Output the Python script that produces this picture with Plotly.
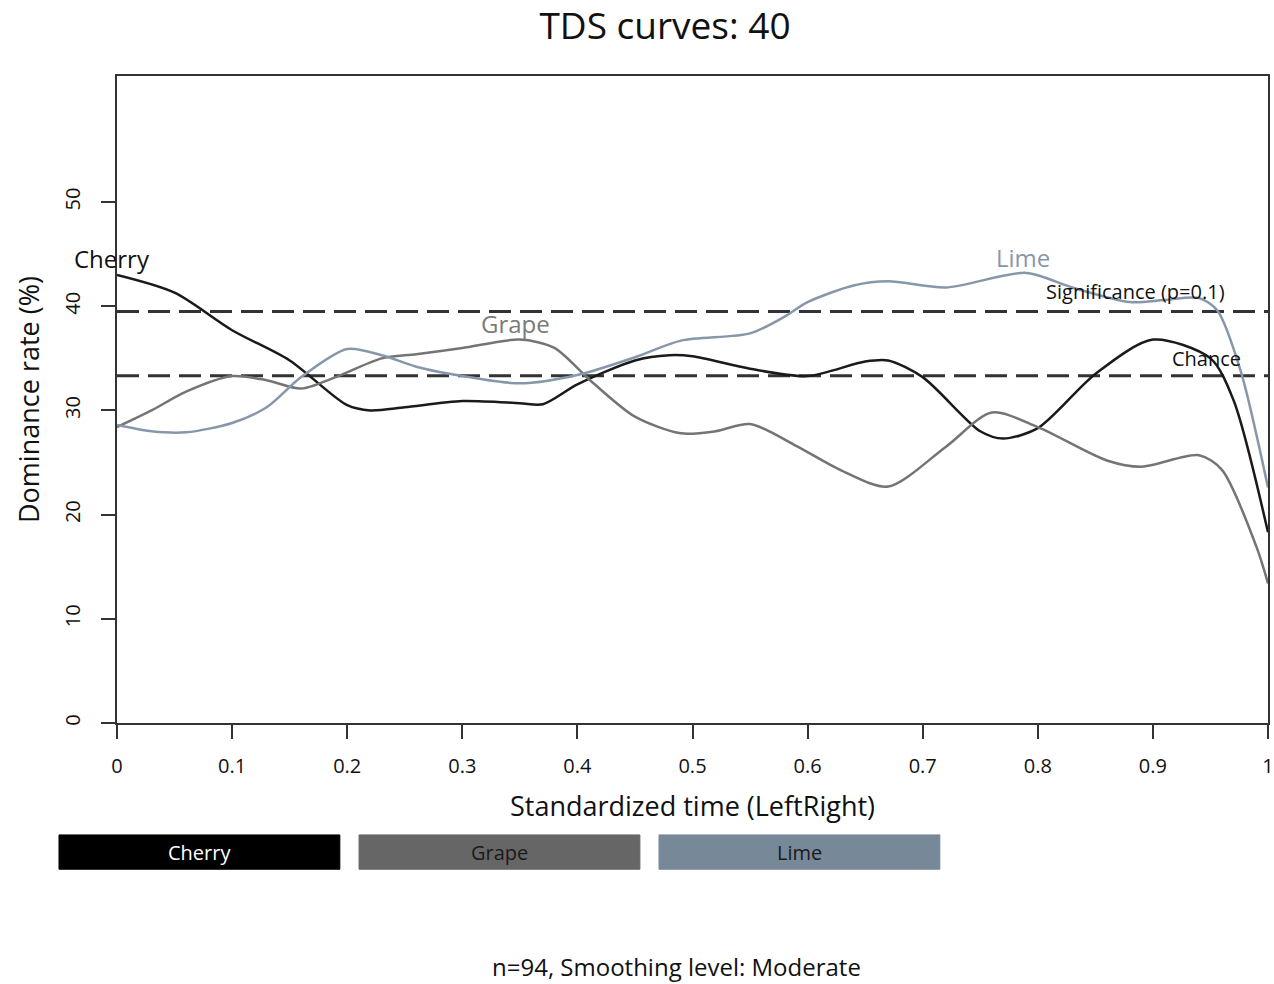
import plotly.graph_objects as go

# Standardized time points and dominance rates (%) for each attribute
cherry_t = [0, 0.05, 0.1, 0.15, 0.2, 0.22, 0.25, 0.3, 0.35, 0.37, 0.4, 0.45, 0.48, 0.5,
            0.55, 0.6, 0.65, 0.67, 0.7, 0.75, 0.77, 0.8, 0.85, 0.9, 0.95, 0.97, 1.0]
cherry_v = [43.0, 41.3, 37.7, 34.8, 30.5, 30.0, 30.3, 30.9, 30.7, 30.6, 32.5, 34.8, 35.3, 35.2,
            34.0, 33.3, 34.7, 34.8, 33.2, 28.0, 27.3, 28.3, 33.5, 36.8, 35.0, 31.0, 18.3]

grape_t = [0, 0.03, 0.06, 0.1, 0.13, 0.16, 0.19, 0.23, 0.26, 0.3, 0.35, 0.38, 0.41, 0.45,
           0.49, 0.52, 0.55, 0.59, 0.63, 0.67, 0.72, 0.76, 0.8, 0.86, 0.89, 0.94, 0.96, 0.99, 1.0]
grape_v = [28.4, 30.0, 31.8, 33.3, 32.9, 32.1, 33.2, 35.0, 35.4, 36.0, 36.8, 36.0, 33.0, 29.4,
           27.8, 28.0, 28.7, 26.6, 24.2, 22.7, 26.5, 29.8, 28.4, 25.2, 24.6, 25.7, 24.3, 16.9, 13.4]

lime_t = [0, 0.03, 0.06, 0.1, 0.13, 0.16, 0.2, 0.23, 0.26, 0.29, 0.35, 0.4, 0.45, 0.49,
          0.55, 0.58, 0.6, 0.64, 0.67, 0.72, 0.79, 0.83, 0.88, 0.91, 0.94, 0.956, 0.976, 1.0]
lime_v = [28.6, 28.0, 27.9, 28.8, 30.3, 33.2, 35.9, 35.3, 34.2, 33.5, 32.6, 33.4, 35.1, 36.7,
          37.4, 39.0, 40.4, 42.0, 42.4, 41.8, 43.2, 41.8, 40.4, 40.6, 40.8, 39.6, 33.9, 22.6]

chance_level = 33.33
significance_level = 39.5

attributes = ["Cherry", "Grape", "Lime"]
line_colors = ["#1a1a1a", "#747474", "#8797aa"]
box_colors = ["#000000", "#666666", "#778899"]
box_text_colors = ["#ffffff", "#1a1a1a", "#1a1a1a"]

x_ticks = [0, 0.1, 0.2, 0.3, 0.4, 0.5, 0.6, 0.7, 0.8, 0.9, 1.0]
x_tick_text = ["0", "0.1", "0.2", "0.3", "0.4", "0.5", "0.6", "0.7", "0.8", "0.9", "1"]
y_ticks = [0, 10, 20, 30, 40, 50]

FONT = "Open Sans"

fig = go.Figure()

# Reference lines: significance and chance
for level in [significance_level, chance_level]:
    fig.add_trace(go.Scatter(
        x=[0, 1], y=[level, level], mode="lines",
        line=dict(color="#333333", width=3, dash="22px,9px"),
        hoverinfo="skip", showlegend=False))

series = [(cherry_t, cherry_v), (grape_t, grape_v), (lime_t, lime_v)]
for name, (t, v), col in zip(attributes, series, line_colors):
    fig.add_trace(go.Scatter(
        x=t, y=v, mode="lines", name=name,
        line=dict(color=col, width=2.5, shape="spline", smoothing=0.8),
        showlegend=False))

# Curve labels (x in axis fraction so the first can sit on the left edge)
curve_labels = [
    ("Cherry", -0.004, 44.6, "#111111", 24),
    ("Grape", 0.346, 38.3, "#7a7a7a", 24),
    ("Lime", 0.787, 44.7, "#8797aa", 24),
    ("Significance (p=0.1)", 0.885, 41.4, "#111111", 20),
    ("Chance", 0.947, 35.0, "#111111", 20),
]
for txt, x, y, col, size in curve_labels:
    fig.add_annotation(x=x, y=y, xref="x domain", yref="y", text=txt, showarrow=False,
                       xanchor="center", yanchor="middle",
                       font=dict(family=FONT, size=size, color=col))

# Attribute colour key below the x axis
box_w = 0.244
box_x0 = [-0.0504, 0.2103, 0.4709]
for name, x0, fill, tcol in zip(attributes, box_x0, box_colors, box_text_colors):
    fig.add_shape(type="rect", xref="paper", yref="paper",
                  x0=x0, x1=x0 + box_w, y0=-0.226, y1=-0.173,
                  fillcolor=fill, line=dict(color=fill, width=1))
    fig.add_annotation(xref="paper", yref="paper", x=x0 + box_w / 2, y=-0.1995,
                       text=name, showarrow=False, xanchor="center", yanchor="middle",
                       font=dict(family=FONT, size=20, color=tcol))

fig.add_annotation(xref="paper", yref="paper", x=0.486, y=-0.377,
                   text="n=94, Smoothing level: Moderate", showarrow=False,
                   xanchor="center", yanchor="middle",
                   font=dict(family=FONT, size=24, color="#111111"))

fig.update_layout(
    width=1274, height=984,
    margin=dict(l=117, r=6, t=76, b=261),
    paper_bgcolor="white", plot_bgcolor="white",
    title=dict(text="TDS curves: 40", x=0.522, xanchor="center", y=0.974, yanchor="middle",
               font=dict(family=FONT, size=37, color="#111111")),
    font=dict(family=FONT, color="#111111"),
    xaxis=dict(
        range=[0, 1], tickvals=x_ticks, ticktext=x_tick_text,
        showgrid=False, zeroline=False, automargin=False,
        showline=True, linecolor="#333333", linewidth=2, mirror=True,
        ticks="outside", ticklen=14, tickwidth=2, tickcolor="#333333",
        ticklabelstandoff=10,
        tickfont=dict(family=FONT, size=20, color="#111111"),
        title=dict(text="Standardized time (LeftRight)", standoff=19,
                   font=dict(family=FONT, size=27, color="#111111")),
    ),
    yaxis=dict(
        range=[0, 62.1], tickvals=y_ticks,
        showgrid=False, zeroline=False, automargin=False,
        showline=True, linecolor="#333333", linewidth=2, mirror=True,
        ticks="outside", ticklen=14, tickwidth=2, tickcolor="#333333",
        tickangle=-90, ticklabelstandoff=13,
        tickfont=dict(family=FONT, size=20, color="#111111"),
        title=dict(text="Dominance rate (%)", standoff=12,
                   font=dict(family=FONT, size=27, color="#111111")),
    ),
)

fig.write_html("out.html")
